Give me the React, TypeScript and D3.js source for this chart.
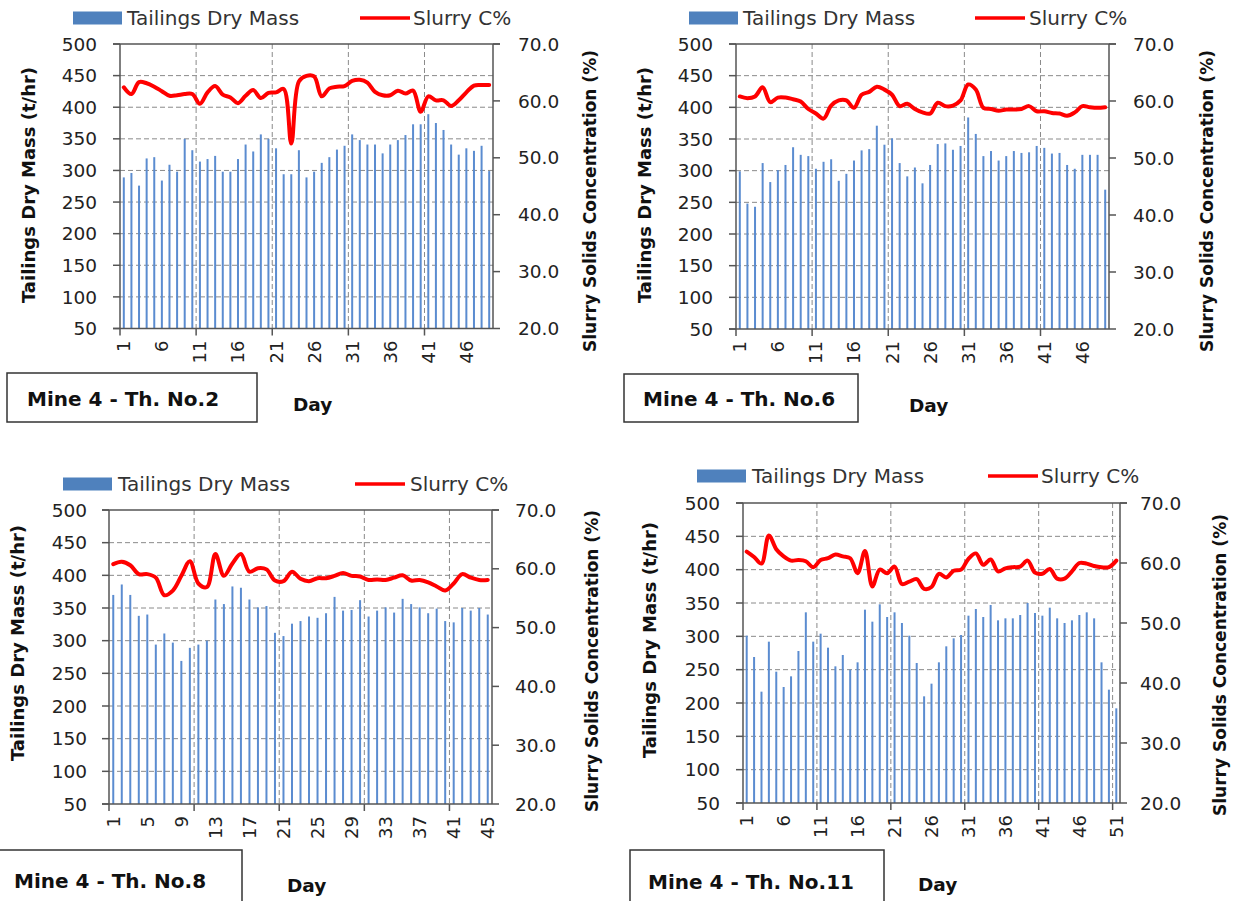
import React from 'react';
import * as d3 from 'd3';

// Daily tailings dry mass (t/hr) and slurry solids concentration (%) per thickener
const massTh2 = [289, 296, 276, 319, 321, 284, 309, 298, 350, 332, 314, 318, 323, 298, 298, 318, 341, 330, 357, 350, 335, 294, 294, 332, 289, 298, 312, 321, 333, 339, 357, 348, 341, 341, 327, 341, 348, 356, 373, 373, 389, 375, 364, 341, 325, 335, 331, 339, 299];
const concTh2 = [62.4, 61.2, 63.3, 63.1, 62.5, 61.7, 60.9, 61.0, 61.2, 61.2, 59.5, 61.5, 62.6, 61.1, 60.6, 59.6, 60.9, 61.9, 60.5, 61.4, 61.5, 62.1, 52.5, 63.4, 64.4, 64.3, 60.8, 62.2, 62.5, 62.6, 63.5, 63.7, 63.2, 61.6, 61.0, 61.0, 61.8, 61.3, 61.8, 58.1, 60.8, 60.1, 60.1, 59.1, 60.1, 61.5, 62.7, 62.8, 62.8];

const massTh6 = [299, 248, 243, 312, 282, 301, 309, 337, 325, 323, 303, 314, 318, 284, 295, 316, 332, 334, 371, 341, 351, 312, 291, 305, 280, 309, 342, 343, 333, 339, 384, 358, 323, 331, 316, 323, 331, 328, 329, 339, 336, 327, 328, 309, 303, 325, 325, 325, 270];
const concTh6 = [60.8, 60.5, 60.8, 62.4, 59.8, 60.6, 60.6, 60.3, 59.9, 58.6, 57.8, 56.9, 59.2, 60.1, 60.1, 58.8, 61.1, 61.6, 62.5, 62.0, 61.1, 59.1, 59.5, 58.6, 58.0, 57.8, 59.7, 59.1, 59.2, 60.1, 62.9, 62.0, 58.8, 58.6, 58.3, 58.5, 58.5, 58.6, 59.1, 58.2, 58.2, 57.9, 57.8, 57.4, 58.0, 59.1, 58.9, 58.8, 58.9];

const massTh8 = [370, 386, 370, 338, 340, 294, 311, 297, 269, 289, 294, 300, 363, 356, 383, 381, 363, 351, 353, 312, 307, 326, 330, 337, 335, 342, 367, 346, 347, 362, 337, 346, 351, 343, 364, 356, 351, 342, 349, 330, 328, 350, 346, 350, 340];
const concTh8 = [60.8, 61.2, 60.6, 59.1, 59.1, 58.5, 55.5, 56.3, 58.8, 61.3, 57.5, 56.9, 62.5, 58.8, 60.9, 62.5, 59.5, 60.1, 59.9, 58.0, 57.9, 59.5, 58.3, 57.9, 58.4, 58.4, 58.8, 59.3, 58.8, 58.7, 58.1, 58.2, 58.1, 58.5, 58.9, 58.0, 58.1, 57.7, 57.0, 56.3, 57.5, 59.1, 58.5, 58.1, 58.1];

const massTh11 = [301, 269, 217, 292, 247, 224, 240, 278, 336, 292, 304, 283, 255, 272, 250, 261, 340, 322, 348, 329, 336, 320, 301, 260, 210, 229, 261, 285, 297, 302, 331, 341, 329, 347, 324, 327, 327, 332, 350, 335, 331, 343, 327, 320, 324, 332, 336, 327, 261, 220, 192];
const concTh11 = [61.9, 61.0, 59.9, 64.6, 62.3, 61.1, 60.4, 60.5, 60.3, 59.3, 60.5, 60.8, 61.4, 61.1, 60.8, 58.3, 62.0, 56.1, 58.9, 58.3, 59.4, 56.5, 56.9, 57.3, 55.7, 56.0, 58.2, 57.6, 58.7, 58.9, 60.7, 61.6, 59.7, 60.6, 58.6, 59.1, 59.3, 59.4, 60.4, 58.4, 58.2, 59.0, 57.4, 57.4, 58.6, 60.0, 59.9, 59.5, 59.3, 59.3, 60.4];

const massTicks = [50, 100, 150, 200, 250, 300, 350, 400, 450, 500];
const concTicks = [20, 30, 40, 50, 60, 70];
const panelNames = ['Mine 4 - Th. No.2', 'Mine 4 - Th. No.6', 'Mine 4 - Th. No.8', 'Mine 4 - Th. No.11'];
const seriesNames = ['Tailings Dry Mass', 'Slurry C%'];
const leftTitle = 'Tailings Dry Mass (t/hr)';
const rightTitle = 'Slurry Solids Concentration (%)';
const xTitle = 'Day';

const FONT = '"DejaVu Sans", sans-serif';
const BAR = '#5B8CD0';
const RED = '#FF0000';
const GRID = '#8a8a8a';
const AXIS = '#555';

type Layout = {
  left: number; right: number; top: number; bottom: number;
  labelStep: number;
  legendY: number; rectX: number; text1X: number; lineX: number; text2X: number;
  tickLeftX: number; tickRightX: number;
  leftTitleX: number; leftTitleY: number; rightTitleX: number; rightTitleY: number;
  boxX: number; boxY: number; boxW: number; boxH: number; boxTextX: number; boxTextY: number;
  dayX: number; dayY: number;
};

function Panel({ mass, conc, name, L }: { mass: number[]; conc: number[]; name: string; L: Layout }) {
  const days = d3.range(1, mass.length + 1);
  const x = d3.scaleBand<number>().domain(days).range([L.left, L.right]).padding(0);
  const bw = x.bandwidth();
  const cx = (d: number) => (x(d) as number) + bw / 2;
  const yL = d3.scaleLinear().domain([50, 500]).range([L.bottom, L.top]);
  const yR = d3.scaleLinear().domain([20, 70]).range([L.bottom, L.top]);
  const linePath = d3.line<number>()
    .x((_, i) => cx(days[i]))
    .y((v) => yR(v))
    .curve(d3.curveCatmullRom.alpha(0.5))(conc) as string;
  const bounds = d3.range(10, mass.length, 10).map((k) => L.left + k * bw);
  const labelDays = days.filter((d) => (d - 1) % L.labelStep === 0);

  return (
    <g>
      {/* legend */}
      <rect x={L.rectX} y={L.legendY - 6.5} width={49} height={13} fill="#4F81BD" />
      <text x={L.text1X} y={L.legendY + 7} fontSize={20} fill="#333" fontFamily={FONT}>{seriesNames[0]}</text>
      <line x1={L.lineX} x2={L.lineX + 50} y1={L.legendY} y2={L.legendY} stroke={RED} strokeWidth={3.5} />
      <text x={L.text2X} y={L.legendY + 7} fontSize={20} fill="#333" fontFamily={FONT}>{seriesNames[1]}</text>

      {/* gridlines */}
      {massTicks.filter((t) => t > 50 && t < 500).map((t) => (
        <line key={'h' + t} x1={L.left} x2={L.right} y1={yL(t)} y2={yL(t)} stroke={GRID} strokeWidth={1} strokeDasharray="5,3" />
      ))}
      {bounds.map((b) => (
        <line key={'v' + b} x1={b} x2={b} y1={L.top} y2={L.bottom} stroke={GRID} strokeWidth={1} strokeDasharray="5,3" />
      ))}

      {/* bars */}
      {mass.map((v, i) => (
        <rect key={'b' + i} x={cx(days[i]) - 1} y={yL(v)} width={2} height={yL(50) - yL(v)} fill={BAR} />
      ))}

      {/* concentration line */}
      <path d={linePath} fill="none" stroke={RED} strokeWidth={4} strokeLinejoin="round" strokeLinecap="round" />

      {/* axes */}
      <line x1={L.left - 7} x2={L.right + 7} y1={L.top} y2={L.top} stroke={AXIS} strokeWidth={1.5} />
      <line x1={L.left} x2={L.left} y1={L.top} y2={L.bottom} stroke={AXIS} strokeWidth={1.5} />
      <line x1={L.right} x2={L.right} y1={L.top} y2={L.bottom} stroke={AXIS} strokeWidth={1.5} />
      <line x1={L.left - 7} x2={L.right} y1={L.bottom} y2={L.bottom} stroke={AXIS} strokeWidth={1.5} />
      {massTicks.map((t) => (
        <g key={'lt' + t}>
          <line x1={L.left - 7} x2={L.left} y1={yL(t)} y2={yL(t)} stroke={AXIS} strokeWidth={1.5} />
          <text x={L.tickLeftX} y={yL(t)} dy="0.36em" textAnchor="end" fontSize={18.5} fill="#222" fontFamily={FONT}>{t}</text>
        </g>
      ))}
      {concTicks.map((t) => (
        <g key={'rt' + t}>
          <line x1={L.right} x2={L.right + 7} y1={yR(t)} y2={yR(t)} stroke={AXIS} strokeWidth={1.5} />
          <text x={L.tickRightX} y={yR(t)} dy="0.36em" textAnchor="start" fontSize={18.5} fill="#222" fontFamily={FONT}>{t.toFixed(1)}</text>
        </g>
      ))}
      {[L.left, ...bounds].map((b) => (
        <line key={'xt' + b} x1={b} x2={b} y1={L.bottom} y2={L.bottom + 7} stroke={AXIS} strokeWidth={1.5} />
      ))}
      {labelDays.map((d) => (
        <text key={'xl' + d} transform={`translate(${cx(d)},${L.bottom + 12}) rotate(-90)`} dy="0.36em" textAnchor="end" fontSize={18} fill="#222" fontFamily={FONT}>{d}</text>
      ))}

      {/* axis titles */}
      <text transform={`translate(${L.leftTitleX},${L.leftTitleY}) rotate(-90)`} dy="0.36em" textAnchor="middle" fontSize={18} fontWeight="bold" fill="#111" fontFamily={FONT}>{leftTitle}</text>
      <text transform={`translate(${L.rightTitleX},${L.rightTitleY}) rotate(-90)`} dy="0.36em" textAnchor="middle" fontSize={17} fontWeight="bold" fill="#111" fontFamily={FONT}>{rightTitle}</text>
      <text x={L.dayX} y={L.dayY} fontSize={18.5} fontWeight="bold" fill="#111" fontFamily={FONT}>{xTitle}</text>

      {/* name box */}
      <rect x={L.boxX} y={L.boxY} width={L.boxW} height={L.boxH} fill="#fff" stroke="#333" strokeWidth={1.5} />
      <text x={L.boxTextX} y={L.boxTextY} fontSize={20} fontWeight="bold" fill="#111" fontFamily={FONT}>{name}</text>
    </g>
  );
}

const layouts: Layout[] = [
  {
    left: 120, right: 493, top: 44, bottom: 328.5, labelStep: 5,
    legendY: 18, rectX: 73, text1X: 127, lineX: 360, text2X: 413,
    tickLeftX: 97, tickRightX: 518,
    leftTitleX: 29, leftTitleY: 185, rightTitleX: 590, rightTitleY: 201,
    boxX: 7, boxY: 373, boxW: 250, boxH: 49, boxTextX: 27, boxTextY: 406,
    dayX: 293, dayY: 411,
  },
  {
    left: 736, right: 1109, top: 44, bottom: 329, labelStep: 5,
    legendY: 18, rectX: 689, text1X: 743, lineX: 975, text2X: 1029,
    tickLeftX: 713, tickRightX: 1133,
    leftTitleX: 645, leftTitleY: 185, rightTitleX: 1207, rightTitleY: 201,
    boxX: 624, boxY: 374, boxW: 234, boxH: 48, boxTextX: 643, boxTextY: 406,
    dayX: 909, dayY: 412,
  },
  {
    left: 109, right: 492, top: 510, bottom: 804, labelStep: 4,
    legendY: 484, rectX: 63, text1X: 118, lineX: 355, text2X: 410,
    tickLeftX: 87, tickRightX: 515,
    leftTitleX: 18, leftTitleY: 643, rightTitleX: 592, rightTitleY: 661,
    boxX: -2, boxY: 850, boxW: 244, boxH: 60, boxTextX: 14, boxTextY: 888,
    dayX: 287, dayY: 892,
  },
  {
    left: 743, right: 1120, top: 503, bottom: 803, labelStep: 5,
    legendY: 476, rectX: 697, text1X: 752, lineX: 988, text2X: 1041,
    tickLeftX: 720, tickRightX: 1140,
    leftTitleX: 650, leftTitleY: 640, rightTitleX: 1220, rightTitleY: 665,
    boxX: 630, boxY: 850, boxW: 254, boxH: 60, boxTextX: 648, boxTextY: 889,
    dayX: 918, dayY: 891,
  },
];

const massSets = [massTh2, massTh6, massTh8, massTh11];
const concSets = [concTh2, concTh6, concTh8, concTh11];

export default function App() {
  return (
    <svg width={1238} height={901} style={{ position: 'absolute', left: 0, top: 0, background: '#fff' }}>
      <rect x={0} y={0} width={1238} height={901} fill="#fff" />
      {layouts.map((L, i) => (
        <Panel key={i} mass={massSets[i]} conc={concSets[i]} name={panelNames[i]} L={L} />
      ))}
    </svg>
  );
}
